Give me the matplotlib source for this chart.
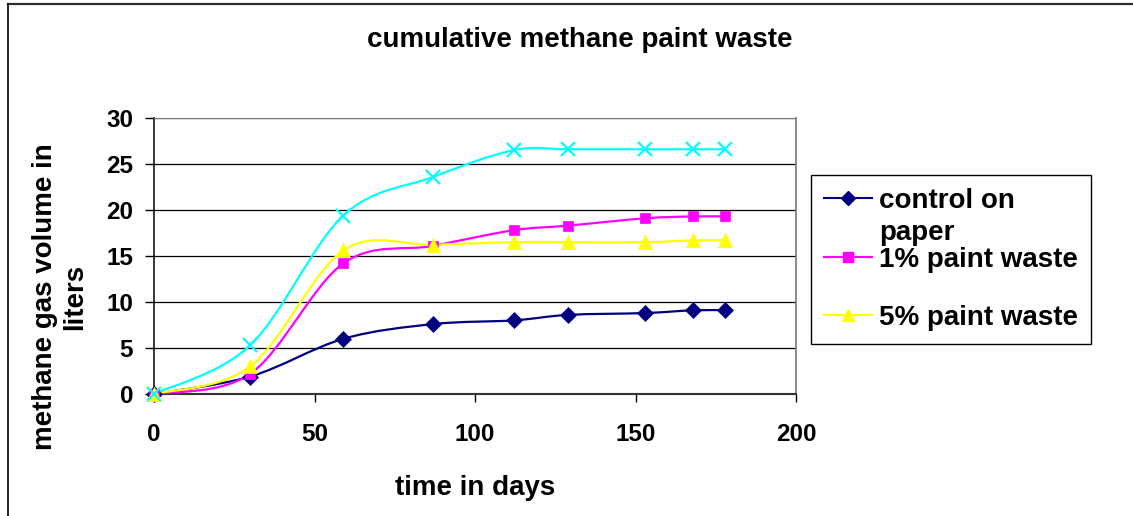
import numpy as np
import matplotlib
matplotlib.use("Agg")
import matplotlib.pyplot as plt
from matplotlib.path import Path
from matplotlib.patches import PathPatch
from matplotlib.lines import Line2D
from matplotlib.legend_handler import HandlerLine2D

plt.rcParams['font.family'] = ['Liberation Sans', 'DejaVu Sans']
plt.rcParams['font.weight'] = 'bold'

# Measurement days and cumulative methane volume (litres)
days = [0, 30, 59, 87, 112, 129, 153, 168, 178]
control_paper = [0, 1.9, 6.0, 7.6, 8.0, 8.6, 8.8, 9.1, 9.1]
paint_1pct = [0, 2.2, 14.2, 16.1, 17.8, 18.3, 19.1, 19.3, 19.3]
paint_5pct = [0, 3.0, 15.6, 16.2, 16.5, 16.5, 16.5, 16.7, 16.7]
paint_extra = [0, 5.3, 19.4, 23.6, 26.5, 26.6, 26.6, 26.6, 26.6]

legend_labels = ["control on\npaper", "1% paint waste\n", "5% paint waste"]
x_ticks = [0, 50, 100, 150, 200]
y_ticks = [0, 5, 10, 15, 20, 25, 30]

NAVY, MAGENTA, YELLOW, CYAN = "#000080", "#FF00FF", "#FFFF00", "#00FFFF"


def smooth_path(x, y):
    """Spreadsheet-style smoothed line: cubic Bezier segments through the points."""
    pts = np.column_stack([x, y]).astype(float)
    n = len(pts)
    verts, codes = [pts[0]], [Path.MOVETO]
    for i in range(n - 1):
        p0 = pts[max(i - 1, 0)]
        p1 = pts[i]
        p2 = pts[i + 1]
        p3 = pts[min(i + 2, n - 1)]
        verts += [p1 + (p2 - p0) / 6.0, p2 - (p3 - p1) / 6.0, p2]
        codes += [Path.CURVE4] * 3
    return Path(verts, codes)


fig = plt.figure(figsize=(11.33, 5.16), dpi=100)
ax = fig.add_axes([154 / 1133, 1 - 394 / 516, 642 / 1133, 276 / 516])

styles = [
    (control_paper, NAVY, "D", 8.5),
    (paint_1pct, MAGENTA, "s", 7.5),
    (paint_5pct, YELLOW, "^", 9.5),
    (paint_extra, CYAN, "x", 9.5),
]
for vals, color, marker, ms in styles:
    ax.add_patch(PathPatch(smooth_path(days, vals), facecolor="none",
                           edgecolor=color, lw=1.6, zorder=3))
    ax.plot(days, vals, ls="none", marker=marker, ms=ms, color=color,
            mew=1.6 if marker == "x" else 0.5, zorder=4, clip_on=False)

ax.set_xlim(0, 200)
ax.set_ylim(0, 30)
ax.set_xticks(x_ticks)
ax.set_yticks(y_ticks)
ax.tick_params(axis="y", direction="out", length=6.5, width=1, pad=8.5,
               labelsize=17.5, color="black")
ax.tick_params(axis="x", direction="out", length=5.8, width=1, pad=15,
               labelsize=17.5, color="black")
for lab in ax.get_xticklabels() + ax.get_yticklabels():
    lab.set_fontweight("bold")

ax.yaxis.grid(True, color="black", lw=0.9)
ax.set_axisbelow(True)
ax.spines["left"].set_color("black")
ax.spines["left"].set_linewidth(1.1)
ax.spines["bottom"].set_color("#333333")
ax.spines["bottom"].set_linewidth(1.5)
ax.spines["right"].set_color("#808080")
ax.spines["right"].set_linewidth(1.3)
ax.spines["top"].set_color("#808080")

ax.set_xlabel("time in days", fontsize=20, fontweight="bold")
ax.xaxis.set_label_coords(0.5, (394 - 488) / 276)
ax.xaxis.label.set_verticalalignment("center")
ax.set_ylabel("methane gas volume in\nliters", fontsize=20, fontweight="bold",
              multialignment="center")
ax.yaxis.set_label_coords((60 - 154) / 642, (394 - 297) / 276)
ax.yaxis.label.set_verticalalignment("center")

fig.text(580 / 1133, 1 - 40 / 516, "cumulative methane paint waste",
         ha="center", va="center", fontsize=20, fontweight="bold")

# Chart-area frame (top and left edges)
fig.add_artist(Line2D([0.007, 1.0], [1 - 4 / 516, 1 - 4 / 516],
                      transform=fig.transFigure, color="#303030", lw=1.6))
fig.add_artist(Line2D([0.007, 0.007], [0.0, 1 - 4 / 516],
                      transform=fig.transFigure, color="black", lw=1.2))


class LiftedLineHandler(HandlerLine2D):
    """Legend handle raised to sit beside the first line of a two-line label."""

    def __init__(self, lift=0.0, **kw):
        super().__init__(**kw)
        self.lift = lift

    def create_artists(self, legend, orig_handle, xdescent, ydescent, width,
                       height, fontsize, trans):
        artists = super().create_artists(legend, orig_handle, xdescent,
                                         ydescent, width, height, fontsize, trans)
        for a in artists:
            a.set_ydata(np.asarray(a.get_ydata()) + self.lift)
        return artists


h_control = Line2D([], [], color=NAVY, lw=1.5, marker="D", ms=7.5)
h_1pct = Line2D([], [], color=MAGENTA, lw=1.5, marker="s", ms=7)
h_5pct = Line2D([], [], color=YELLOW, lw=1.5, marker="^", ms=8.5)

leg = fig.legend([h_control, h_1pct, h_5pct], legend_labels,
                 loc="upper left", bbox_to_anchor=(811 / 1133, 1 - 175 / 516),
                 bbox_transform=fig.transFigure, borderaxespad=0,
                 prop={"size": 20, "weight": "bold"},
                 handlelength=1.73, handletextpad=0.25, borderpad=0.47,
                 labelspacing=0.03, fancybox=False, shadow=False,
                 framealpha=1, edgecolor="black",
                 handler_map={h_control: LiftedLineHandler(lift=13.6),
                              h_1pct: LiftedLineHandler(lift=13.6)})
leg.get_frame().set_linewidth(1.0)
for t in leg.get_texts():
    t.set_linespacing(1.286)

fig.savefig("out.png", dpi=100)
